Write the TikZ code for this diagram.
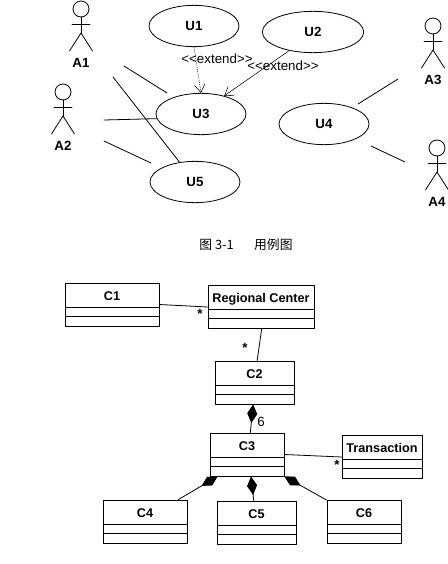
\documentclass[tikz,border=0pt]{standalone}
\usepackage{fontspec}
\setmainfont{Liberation Sans}
\newfontfamily\cjk{Noto Sans CJK SC}
\usetikzlibrary{arrows.meta,shapes.geometric}
\tikzset{
	usecase/.style={draw, ellipse, inner sep=0pt, minimum width=67.5pt, minimum height=31pt, font=\bfseries\fontsize{10}{10}\selectfont},
	actorname/.style={font=\bfseries\fontsize{10}{10}\selectfont},
	classbox/.style={draw, rectangle, inner xsep=0pt, inner ysep=0pt, text height=13pt, text depth=19.25pt, font=\bfseries\fontsize{9.5}{10}\selectfont,
		path picture={
			\draw ([yshift=-18pt]path picture bounding box.north west) -- ([yshift=-18pt]path picture bounding box.north east);
			\draw ([yshift=-24.75pt]path picture bounding box.north west) -- ([yshift=-24.75pt]path picture bounding box.north east);
		}},
	comp/.style={{Diamond[length=14pt,width=7.5pt]}-},
	extends/.style={-{Straight Barb[length=6pt,width=8pt]}, thin},
	note/.style={font=\fontsize{10}{10}\selectfont, inner sep=0pt}
}
\begin{document}
\begin{tikzpicture}[x=0.75pt, y=-0.75pt, line join=round, line cap=round, >=stealth, semithick]
	\useasboundingbox (0,0) rectangle (448,564);
	% actors
	\foreach \name/\x/\y in {A1/81/9, A2/63/92, A3/433/26, A4/437/148} {
		\draw (\x,\y) circle (8);
		\draw (\x,\y+8)--(\x,\y+24) (\x-9,\y+15)--(\x+9,\y+15);
		\draw (\x-11.5,\y+42)--(\x,\y+24)--(\x+11.5,\y+42);
		\node[actorname] (\name) at (\x,\y+54) {\name};
	}
	% use cases
	\foreach \name/\x/\y in {U1/194/26, U3/201/114, U4/324/124, U5/195/182}
		\node[usecase] (\name) at (\x,\y) {\name};
	\node[usecase, minimum width=76pt] (U2) at (313,32) {U2};
	\coordinate (a1u3) at (124,66);
	\coordinate (a1u5) at (113,77);
	\coordinate (a2u3) at (104,120);
	\coordinate (a2u5) at (104,141);
	\coordinate (u5a2) at (151,163);
	\coordinate (a3u4) at (398,79);
	\coordinate (u4a3) at (358,104);
	\coordinate (a4u4) at (405,162);
	\coordinate (u4a4) at (371,146);
	\coordinate (u3a1) at (167,93);
	\draw (a1u3)--(u3a1);
	\draw (a1u5)--(U5.128);
	\draw (a2u3)--(U3.186);
	\draw (a2u5)--(u5a2);
	\draw (a3u4)--(u4a3);
	\draw (a4u4)--(u4a4);
	\draw[extends, densely dotted] (U1.south)--(U3.north);
	\draw[extends] (U2.218)--(U3.38);
	\node[note] (ext1) at (217,59) {{<}{<}extend{>}{>}};
	\node[note] (ext2) at (283,66) {{<}{<}extend{>}{>}};
	\node[font=\cjk\fontsize{9.6}{10}\selectfont, inner sep=0pt] (cap) at (246,245) {图 3-1\hspace{1.6em}用例图};
	% classes
	\foreach \name/\txt/\x/\y/\w in {C1/C1/112/304.5/94, RC/Regional Center/261/307/106, C2/C2/254.5/382.5/79, C3/C3/247/454.5/74,
		TR/Transaction/382/457/80, C4/C4/145/521.5/84, C5/C5/256.5/523/79, C6/C6/364/522/74}
		\node[classbox, minimum width=\w*0.75pt] (\name) at (\x,\y) {\txt};
	\draw (C1.east)--(RC.west);
	\draw ([xshift=0.5pt]RC.south)--([xshift=2pt]C2.north);
	\draw[comp] ([xshift=-1pt]C2.south)--([xshift=2.5pt]C3.north);
	\draw (C3.east)--(TR.west);
	\draw[comp] ([xshift=-22pt]C3.south)--([xshift=25pt]C4.north);
	\draw[comp] ([xshift=3pt]C3.south)--([xshift=-2pt]C5.north);
	\draw[comp] ([xshift=28pt]C3.south)--([xshift=-28pt]C6.north);
	\node[note, font=\bfseries\fontsize{10}{10}\selectfont] (s1) at (200,314) {*};
	\node[note, font=\bfseries\fontsize{10}{10}\selectfont] (s2) at (245,348) {*};
	\node[note, font=\bfseries\fontsize{10}{10}\selectfont] (s3) at (337,465) {*};
	\node[note] (six) at (261,422) {6};
\end{tikzpicture}
\end{document}
